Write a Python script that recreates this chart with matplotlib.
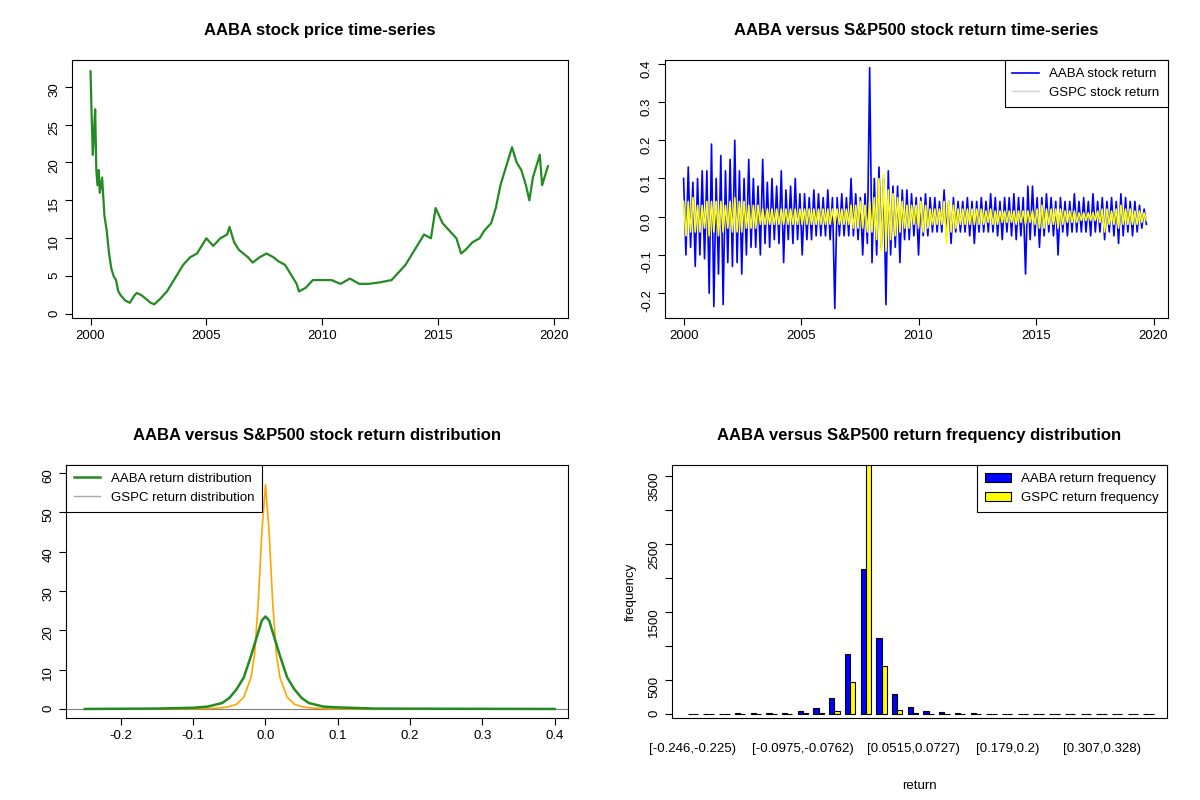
import matplotlib as mpl
mpl.use('Agg')
import matplotlib.pyplot as plt
import numpy as np

# price time-series (year, price)
price_t = [2000.0, 2000.05, 2000.1, 2000.15, 2000.2, 2000.25, 2000.3, 2000.35, 2000.4, 2000.5, 2000.6, 2000.7,
           2000.8, 2000.9, 2001.0, 2001.1, 2001.2, 2001.3, 2001.5, 2001.7, 2001.9, 2002.0, 2002.2, 2002.4,
           2002.6, 2002.75, 2003.0, 2003.3, 2003.6, 2004.0, 2004.3, 2004.6, 2005.0, 2005.3, 2005.6, 2005.9,
           2006.0, 2006.2, 2006.4, 2006.8, 2007.0, 2007.3, 2007.6, 2007.9, 2008.1, 2008.4, 2008.7, 2008.9,
           2009.0, 2009.3, 2009.6, 2010.0, 2010.4, 2010.8, 2011.2, 2011.6, 2012.0, 2012.5, 2013.0, 2013.3,
           2013.6, 2013.9, 2014.1, 2014.4, 2014.7, 2014.9, 2015.2, 2015.5, 2015.8, 2016.0, 2016.2, 2016.5,
           2016.8, 2017.0, 2017.3, 2017.5, 2017.7, 2017.9, 2018.1, 2018.2, 2018.4, 2018.6, 2018.8, 2018.95,
           2019.1, 2019.3, 2019.4, 2019.5, 2019.6, 2019.75]
price_v = [32, 26, 21, 24, 27, 19, 17, 19, 16, 18, 13, 11,
           8, 6, 5, 4.5, 3, 2.5, 1.8, 1.5, 2.5, 2.8, 2.5, 2.0,
           1.5, 1.3, 2.0, 3.0, 4.5, 6.5, 7.5, 8.0, 10, 9, 10, 10.5,
           11.5, 9.5, 8.5, 7.5, 6.8, 7.5, 8.0, 7.5, 7.0, 6.5, 5.0, 4.0,
           3.0, 3.5, 4.5, 4.5, 4.5, 4.0, 4.7, 4.0, 4.0, 4.2, 4.5, 5.5,
           6.5, 8.0, 9.0, 10.5, 10.0, 14, 12, 11, 10, 8.0, 8.5, 9.5,
           10, 11, 12, 14, 17, 19, 21, 22, 20, 19, 17, 15,
           18, 20, 21, 17, 18, 19.5]

# return envelopes, 10 values per year from 2000 to 2019.8
aaba_ret = [0.1, -0.1, 0.13, -0.08, 0.09, -0.13, 0.1, -0.1, 0.12, -0.11,
            0.12, -0.2, 0.19, -0.235, 0.1, -0.15, 0.16, -0.23, 0.12, -0.12,
            0.15, -0.13, 0.2, -0.12, 0.12, -0.15, 0.1, -0.1, 0.15, -0.08,
            0.1, -0.08, 0.08, -0.1, 0.15, -0.07, 0.09, -0.08, 0.1, -0.06,
            0.08, -0.07, 0.12, -0.12, 0.07, -0.06, 0.08, -0.07, 0.1, -0.06,
            0.06, -0.1, 0.06, -0.06, 0.05, -0.06, 0.07, -0.05, 0.06, -0.05,
            0.05, -0.05, 0.07, -0.06, 0.05, -0.24, 0.05, -0.05, 0.06, -0.05,
            0.05, -0.05, 0.1, -0.05, 0.06, -0.06, 0.05, -0.1, 0.06, -0.07,
            0.39, -0.12, 0.1, -0.1, 0.13, -0.08, 0.1, -0.23, 0.12, -0.1,
            0.08, -0.08, 0.08, -0.12, 0.07, -0.06, 0.07, -0.06, 0.06, -0.05,
            0.05, -0.1, 0.05, -0.05, 0.06, -0.05, 0.05, -0.04, 0.05, -0.04,
            0.04, -0.04, 0.07, -0.05, 0.04, -0.07, 0.05, -0.04, 0.04, -0.04,
            0.04, -0.04, 0.05, -0.05, 0.04, -0.07, 0.04, -0.04, 0.05, -0.04,
            0.04, -0.04, 0.06, -0.04, 0.05, -0.05, 0.04, -0.06, 0.05, -0.04,
            0.05, -0.05, 0.06, -0.06, 0.05, -0.05, 0.05, -0.15, 0.08, -0.06,
            0.08, -0.05, 0.05, -0.08, 0.05, -0.05, 0.06, -0.04, 0.05, -0.05,
            0.04, -0.1, 0.05, -0.04, 0.04, -0.05, 0.04, -0.04, 0.06, -0.04,
            0.04, -0.04, 0.05, -0.04, 0.04, -0.05, 0.06, -0.04, 0.04, -0.04,
            0.05, -0.06, 0.04, -0.04, 0.05, -0.05, 0.04, -0.07, 0.06, -0.05,
            0.05, -0.04, 0.04, -0.05, 0.04, -0.04, 0.03, -0.03, 0.02, -0.02]
gspc_ret = [0.04, -0.05, 0.04, -0.04, 0.05, -0.04, 0.03, -0.04, 0.03, -0.03,
            0.04, -0.05, 0.04, -0.04, 0.04, -0.05, 0.04, -0.04, 0.03, -0.03,
            0.04, -0.04, 0.05, -0.04, 0.04, -0.04, 0.04, -0.03, 0.03, -0.03,
            0.03, -0.03, 0.03, -0.02, 0.02, -0.02, 0.02, -0.02, 0.02, -0.02,
            0.02, -0.02, 0.02, -0.02, 0.02, -0.02, 0.02, -0.02, 0.02, -0.02,
            0.02, -0.02, 0.02, -0.02, 0.02, -0.02, 0.02, -0.02, 0.02, -0.02,
            0.02, -0.02, 0.02, -0.02, 0.02, -0.02, 0.02, -0.02, 0.02, -0.02,
            0.02, -0.02, 0.03, -0.03, 0.03, -0.03, 0.04, -0.03, 0.03, -0.04,
            0.04, -0.04, 0.05, -0.06, 0.1, -0.09, 0.11, -0.09, 0.07, -0.06,
            0.06, -0.05, 0.05, -0.04, 0.04, -0.03, 0.03, -0.03, 0.03, -0.02,
            0.03, -0.03, 0.04, -0.04, 0.03, -0.03, 0.02, -0.02, 0.02, -0.02,
            0.02, -0.02, 0.04, -0.07, 0.04, -0.04, 0.03, -0.03, 0.02, -0.02,
            0.02, -0.02, 0.02, -0.02, 0.02, -0.02, 0.02, -0.02, 0.02, -0.02,
            0.015, -0.015, 0.02, -0.02, 0.015, -0.02, 0.015, -0.015, 0.015, -0.015,
            0.015, -0.015, 0.015, -0.02, 0.015, -0.015, 0.015, -0.02, 0.015, -0.015,
            0.015, -0.02, 0.02, -0.03, 0.03, -0.03, 0.02, -0.02, 0.02, -0.02,
            0.02, -0.03, 0.02, -0.02, 0.015, -0.015, 0.015, -0.015, 0.015, -0.015,
            0.01, -0.01, 0.01, -0.01, 0.01, -0.01, 0.01, -0.01, 0.015, -0.015,
            0.02, -0.04, 0.02, -0.02, 0.015, -0.02, 0.02, -0.03, 0.03, -0.02,
            0.02, -0.02, 0.02, -0.02, 0.015, -0.02, 0.015, -0.015, 0.01, -0.01]
ret_t = [2000 + i * 0.099 for i in range(len(aaba_ret))]

# density estimates
dens_x = [-0.25, -0.15, -0.1, -0.08, -0.06, -0.05, -0.04, -0.03, -0.02, -0.015, -0.01, -0.005, 0,
          0.005, 0.01, 0.015, 0.02, 0.03, 0.04, 0.05, 0.06, 0.08, 0.1, 0.15, 0.25, 0.4]
aaba_dens = [0, 0.1, 0.3, 0.6, 1.5, 2.8, 5, 8, 13.5, 16.5, 19.5, 22.5, 23.5,
             22.5, 19.5, 16.5, 13.5, 8, 5, 2.8, 1.5, 0.6, 0.4, 0.1, 0.05, 0]
gspc_dens = [0, 0, 0.05, 0.1, 0.3, 0.6, 1.2, 3, 8, 14, 27, 45, 57,
             45, 27, 14, 8, 3, 1.2, 0.6, 0.3, 0.1, 0.05, 0, 0, 0]

# histogram counts, 30 bins from -0.246
aaba_freq = [5, 5, 5, 15, 15, 15, 15, 45, 90, 230, 880, 2130, 1110, 290, 100, 45, 30, 15, 15,
             3, 3, 3, 3, 3, 3, 3, 3, 3, 3, 3]
gspc_freq = [0, 0, 0, 0, 0, 0, 3, 10, 15, 45, 470, 4200, 710, 55, 10, 3, 0, 0, 0,
             0, 0, 0, 0, 0, 0, 0, 0, 0, 0, 0]
bin_labels = ['[-0.246,-0.225)', '[-0.0975,-0.0762)', '[0.0515,0.0727)', '[0.179,0.2)', '[0.307,0.328)']
label_bins = [0, 7, 14, 20, 26]

plt.rcParams['font.family'] = ['Liberation Sans', 'DejaVu Sans']
plt.rcParams['font.size'] = 9.5
fig = plt.figure(figsize=(12, 8), dpi=100)

def rstyle(ax):
    for s in ax.spines.values():
        s.set_linewidth(0.8)
    ax.tick_params(length=5, width=0.8)

def rlegend(ax, handles, labels, loc):
    leg = ax.legend(handles, labels, loc=loc, fancybox=False, framealpha=1, edgecolor='black',
                    borderaxespad=0, handlelength=2.0, fontsize=9.5, borderpad=0.6)
    leg.get_frame().set_linewidth(0.8)

# top left
ax1 = fig.add_axes([0.06, 0.6025, 0.413, 0.3225])
ax1.plot(price_t, price_v, color='forestgreen', lw=1.6)
ax1.set_xlim(1999.2, 2020.6)
ax1.set_ylim(-0.5, 33.5)
ax1.set_xticks([2000, 2005, 2010, 2015, 2020])
ax1.set_yticks([0, 5, 10, 15, 20, 25, 30])
ax1.tick_params(axis='y', labelrotation=90)
ax1.set_title('AABA stock price time-series', fontweight='bold', fontsize=12, pad=18)
rstyle(ax1)

# top right
ax2 = fig.add_axes([0.554, 0.6025, 0.419, 0.3225])
l1, = ax2.plot(ret_t, aaba_ret, color='blue', lw=1.2)
l2, = ax2.plot(ret_t, gspc_ret, color='yellow', lw=1.2)
ax2.set_xlim(1999.2, 2020.6)
ax2.set_ylim(-0.265, 0.41)
ax2.set_xticks([2000, 2005, 2010, 2015, 2020])
ax2.set_yticks([-0.2, -0.1, 0.0, 0.1, 0.2, 0.3, 0.4])
ax2.set_yticklabels(['-0.2', '-0.1', '0.0', '0.1', '0.2', '0.3', '0.4'])
ax2.tick_params(axis='y', labelrotation=90)
ax2.set_title('AABA versus S&P500 stock return time-series', fontweight='bold', fontsize=12, pad=18)
h2 = plt.Line2D([], [], color='lightgray', lw=1)
rlegend(ax2, [l1, h2], ['AABA stock return', 'GSPC stock return'], 'upper right')
rstyle(ax2)

# bottom left
ax3 = fig.add_axes([0.055, 0.1025, 0.418, 0.3163])
ax3.axhline(0, color='gray', lw=0.8)
ax3.plot(dens_x, gspc_dens, color='orange', lw=1.2)
ax3.plot(dens_x, aaba_dens, color='forestgreen', lw=1.8)
ax3.set_xlim(-0.276, 0.418)
ax3.set_ylim(-2.3, 62)
ax3.set_xticks([-0.2, -0.1, 0.0, 0.1, 0.2, 0.3, 0.4])
ax3.set_xticklabels(['-0.2', '-0.1', '0.0', '0.1', '0.2', '0.3', '0.4'])
ax3.set_yticks([0, 10, 20, 30, 40, 50, 60])
ax3.tick_params(axis='y', labelrotation=90)
ax3.set_title('AABA versus S&P500 stock return distribution', fontweight='bold', fontsize=12, pad=18)
g1 = plt.Line2D([], [], color='forestgreen', lw=1.8)
g2 = plt.Line2D([], [], color='darkgray', lw=1)
rlegend(ax3, [g1, g2], ['AABA return distribution', 'GSPC return distribution'], 'upper left')
rstyle(ax3)

# bottom right
ax4 = fig.add_axes([0.56, 0.1025, 0.4125, 0.3163])
idx = np.arange(len(aaba_freq)) * 3 + 1
b1 = ax4.bar(idx, aaba_freq, width=1, align='edge', color='blue', edgecolor='black', lw=0.8)
b2 = ax4.bar(idx + 1, gspc_freq, width=1, align='edge', color='yellow', edgecolor='black', lw=0.8)
ax4.set_xlim(-2.0, 92.5)
ax4.set_ylim(-60, 3660)
ax4.set_yticks([0, 500, 1500, 2500, 3500])
ax4.set_yticks([1000, 2000, 3000], minor=True)
ax4.tick_params(axis='y', which='minor', length=5, width=0.8)
ax4.tick_params(axis='y', labelrotation=90)
ax4.set_xticks([idx[i] + 1 for i in label_bins])
ax4.set_xticklabels(bin_labels)
ax4.set_xlabel('return', labelpad=18)
ax4.set_ylabel('frequency', labelpad=8)
ax4.set_title('AABA versus S&P500 return frequency distribution', fontweight='bold', fontsize=12, pad=18)
rlegend(ax4, [b1, b2], ['AABA return frequency', 'GSPC return frequency'], 'upper right')
leg = ax4.get_legend()
for h in leg.legend_handles:
    h.set_edgecolor('black')
rstyle(ax4)
ax4.tick_params(axis='x', length=0, pad=18)

fig.savefig('out.png', dpi=100)
